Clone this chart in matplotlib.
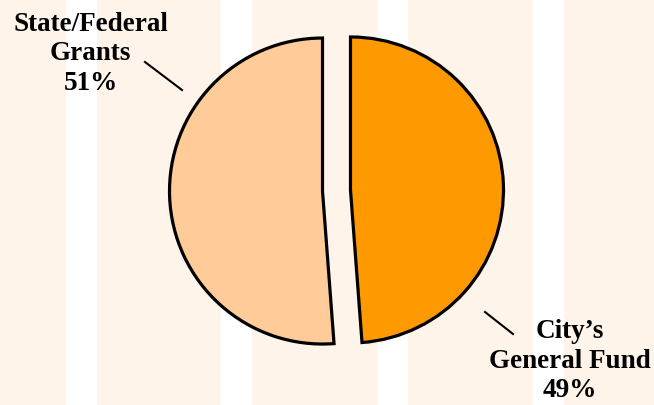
import matplotlib
matplotlib.use("Agg")
import matplotlib.pyplot as plt

# Data
categories = ["City\u2019s\nGeneral Fund", "State/Federal\nGrants"]
shares = [48.8, 51.2]
colors = ["#FF9900", "#FFCC99"]

W, H = 654, 405
fig = plt.figure(figsize=(W / 100, H / 100), dpi=100)
ax = fig.add_axes([0, 0, 1, 1])

# striped background
bg = "#FEF4EA"
fig.patch.set_facecolor("white")
ax.set_facecolor("white")
stripe_starts = [-60, 97, 252, 408, 564]
stripe_ends = [66, 221, 378, 533, 720]
for s, e in zip(stripe_starts, stripe_ends):
    ax.axvspan(s, e, color=bg, zorder=0, lw=0)

cx, cy, r = 336.5, H - 190.5, 153
wedges, _ = ax.pie(
    shares, colors=colors, startangle=90, counterclock=False,
    center=(cx, cy), radius=r, explode=[14, 14],
    wedgeprops=dict(edgecolor="black", linewidth=2.3),
)
for w in wedges:
    w.set_zorder(2)

ax.set_xlim(0, W)
ax.set_ylim(0, H)
ax.set_aspect("equal")
ax.axis("off")

font = dict(family="Liberation Serif", weight="bold", fontsize=19.5)
labels = [f"{c}\n{v:.0f}%" for c, v in zip(categories, shares)]
# City's General Fund (right, bottom)
ax.text(570, H - 361, labels[0], ha="center", va="center",
        multialignment="center", linespacing=1.24, zorder=3, **font)
# State/Federal Grants (left, top)
ax.text(90.5, H - 54, labels[1], ha="center", va="center",
        multialignment="center", linespacing=1.26, zorder=3, **font)

# leader lines
ax.plot([485, 513], [H - 312, H - 334], color="black", lw=1.5, zorder=3)
ax.plot([145, 182], [H - 62, H - 90], color="black", lw=1.5, zorder=3)

fig.savefig("out.png", dpi=100, facecolor=fig.get_facecolor())
